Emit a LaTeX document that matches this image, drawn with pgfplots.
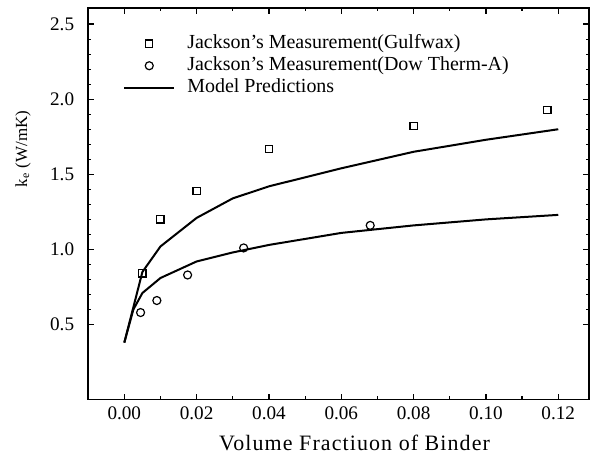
\documentclass[border=0pt]{standalone}
\usepackage{pgfplots}
\pgfplotsset{compat=1.18}
\usetikzlibrary{calc}
\usepackage{fontspec}
\setmainfont{Liberation Serif}
\newfontfamily\labelfont[LetterSpace=5]{Liberation Serif}
\pgfplotsset{
  markleg/.style={legend image code/.code={\draw[mark repeat=2,mark phase=2,##1] plot coordinates {(0bp,0bp) (12.5bp,0bp) (25bp,0bp)};}},
  lineleg/.style={legend image code/.code={\draw[##1] (0bp,0bp) -- (25bp,0bp);}},
}
\begin{document}
\begin{tikzpicture}
\begin{axis}[
    scale only axis, width=250bp, height=195.5bp,
    xmin=-0.01, xmax=0.1285, ymin=0, ymax=2.607,
    xtick={0,0.02,...,0.12}, ytick={0.5,1,1.5,2,2.5},
    minor x tick num=1, minor y tick num=4,
    tick align=inside, major tick length=3bp, minor tick length=1.6bp,
    axis line style={line width=0.7bp}, every tick/.style={line width=0.6bp,black},
    font=\fontsize{9.6}{11}\selectfont,
    /pgf/number format/assume math mode=true,
    xticklabel style={/pgf/number format/.cd,fixed,fixed zerofill,precision=2},
    yticklabel style={xshift=-3.5bp,/pgf/number format/.cd,fixed,fixed zerofill,precision=1},
    xlabel={\labelfont\fontsize{11}{12}\selectfont Volume Fractiuon of Binder},
    xlabel style={yshift=-1bp,xshift=8bp},
    legend style={draw=none, fill=none, inner sep=0pt, outer sep=0pt,
        at={(axis description cs:0.07,0.937)}, anchor=north west,
        font=\fontsize{10}{10}\selectfont, row sep=0pt, column sep=6bp,
        nodes={inner sep=0pt, text height=8bp, text depth=3bp}},
    legend cell align=left,
]
\addplot[only marks, mark=square, mark size=1.8bp, line width=0.6bp, markleg] coordinates {
(0.005,0.84) (0.010,1.20) (0.020,1.39) (0.040,1.67) (0.080,1.82) (0.117,1.93)};
\addlegendentry{Jackson's Measurement(Gulfwax)}
\addplot[only marks, mark=o, mark size=2bp, line width=0.6bp, markleg] coordinates {
(0.0045,0.58) (0.009,0.66) (0.0175,0.83) (0.033,1.01) (0.068,1.16)};
\addlegendentry{Jackson's Measurement(Dow Therm-A)}
\addplot[black, line width=1bp, lineleg] coordinates {
(0,0.38) (0.005,0.85) (0.01,1.02) (0.02,1.21) (0.03,1.34) (0.04,1.42) (0.06,1.54) (0.08,1.65) (0.10,1.73) (0.12,1.80)};
\addlegendentry{Model Predictions}
\addplot[black, line width=1bp, forget plot] coordinates {
(0,0.38) (0.0025,0.60) (0.005,0.71) (0.01,0.81) (0.02,0.92) (0.03,0.98) (0.04,1.03) (0.06,1.11) (0.08,1.16) (0.10,1.20) (0.12,1.23)};
\end{axis}
\node[rotate=90, font=\fontsize{8.5}{10}\selectfont, inner sep=0pt]
  at ($($(current axis.south west)!0.64!(current axis.north west)$)+(-32.5bp,0)$)
  {k\textsubscript{e} (W/mK)};
\pgfresetboundingbox
\path[use as bounding box] ($(current axis.south west)+(-44bp,-32bp)$) rectangle ($(current axis.north east)+(0.5bp,4bp)$);
\end{tikzpicture}
\end{document}
